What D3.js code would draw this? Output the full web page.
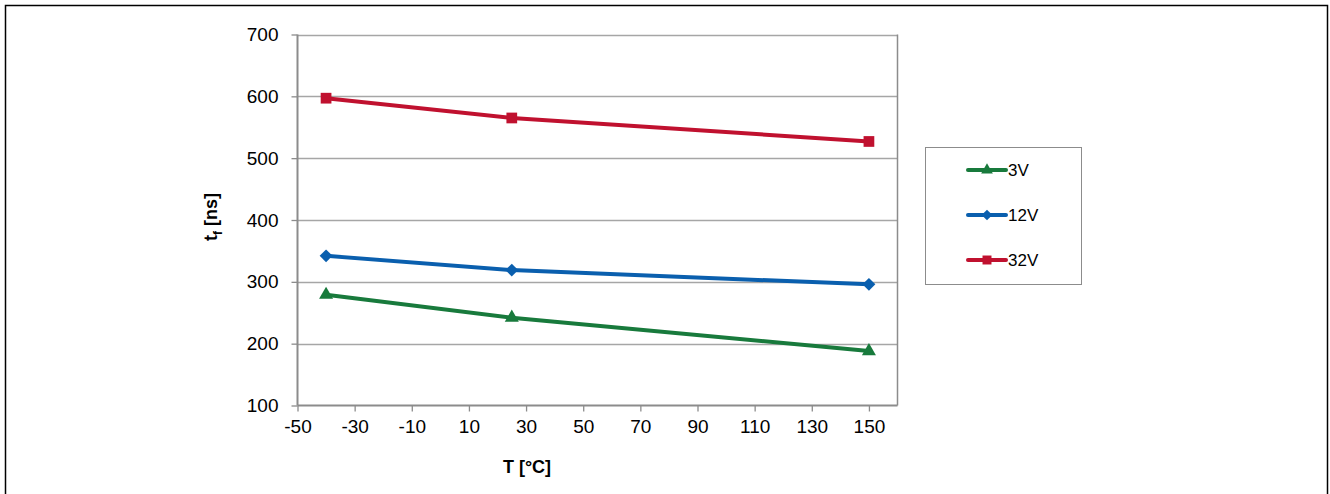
<!DOCTYPE html>
<html lang="en">
<head>
  <meta charset="UTF-8">
  <title>tf vs T</title>
  <script src="https://cdnjs.cloudflare.com/ajax/libs/d3/7.8.5/d3.min.js"></script>
  <style>
    body { margin: 0; padding: 0; background: #fff; font-family: "Liberation Sans", Arial, sans-serif; }
    svg { display: block; }
  </style>
</head>
<body>
<svg id="chart" width="1330" height="494"></svg>
<script>
  // temperatures (°C) and fall times (ns)
  const temps = [-40, 25, 150];
  const seriesNames = ["3V", "12V", "32V"];
  const tf3V = [279, 242, 188];
  const tf12V = [342, 319, 296];
  const tf32V = [597, 565, 527];
  const xTicks = [-50, -30, -10, 10, 30, 50, 70, 90, 110, 130, 150];
  const yTicks = [100, 200, 300, 400, 500, 600, 700];

  const colors = { "3V": "#187a3c", "12V": "#0a5fae", "32V": "#c0112f" };
  const symbols = { "3V": d3.symbolTriangle, "12V": d3.symbolDiamond2, "32V": d3.symbolSquare };
  const symSize = { "3V": 85, "12V": 105, "32V": 115 };
  const series = [
    { name: "3V", values: tf3V },
    { name: "12V", values: tf12V },
    { name: "32V", values: tf32V }
  ];

  const svg = d3.select("#chart");
  const plot = { left: 297.5, right: 897.5, top: 34.5, bottom: 405.5 };

  // outer frame
  svg.append("rect")
    .attr("x", 5.5).attr("y", 5.5)
    .attr("width", 1322).attr("height", 500)
    .attr("fill", "none").attr("stroke", "#000").attr("stroke-width", 1.5);

  const x = d3.scaleLinear().domain([-50, 160]).range([plot.left, plot.right]);
  const y = d3.scaleLinear().domain([100, 700]).range([plot.bottom, plot.top]);

  // gridlines
  svg.append("g").selectAll("line")
    .data(yTicks.slice(1))
    .join("line")
    .attr("x1", plot.left).attr("x2", plot.right)
    .attr("y1", d => Math.round(y(d)) + 0.5).attr("y2", d => Math.round(y(d)) + 0.5)
    .attr("stroke", "#a6a6a6").attr("stroke-width", 1.3);

  // right border of plot area
  svg.append("line")
    .attr("x1", plot.right).attr("x2", plot.right)
    .attr("y1", plot.top).attr("y2", plot.bottom)
    .attr("stroke", "#8c8c8c").attr("stroke-width", 1.5);

  const fmt = d => String(d);
  // y axis
  const yAxis = svg.append("g")
    .attr("transform", `translate(${plot.left},0)`)
    .call(d3.axisLeft(y).tickValues(yTicks).tickFormat(fmt).tickSize(6).tickPadding(13));
  // x axis
  const xAxis = svg.append("g")
    .attr("transform", `translate(0,${plot.bottom})`)
    .call(d3.axisBottom(x).tickValues(xTicks).tickFormat(fmt).tickSize(6).tickPadding(8));

  [yAxis, xAxis].forEach(a => {
    a.attr("font-size", null).attr("font-family", null);
    a.select(".domain").attr("stroke", "#8c8c8c").attr("stroke-width", 2);
    a.selectAll(".tick line").attr("stroke", "#8c8c8c").attr("stroke-width", 1.3);
    a.selectAll("text").style("font-family", "'Liberation Sans', Arial, sans-serif")
      .style("font-size", "19px").attr("fill", "#000");
  });
  xAxis.select(".domain").attr("d", `M${plot.left},0H${plot.right}`);
  yAxis.select(".domain").attr("d", `M0,${plot.bottom}V${plot.top}`);

  // axis titles
  const yTitle = svg.append("text")
    .attr("transform", "translate(217,217) rotate(-90)")
    .attr("text-anchor", "middle")
    .style("font-size", "18px").attr("font-weight", "bold");
  yTitle.append("tspan").text("t");
  yTitle.append("tspan").style("font-size", "12px").attr("dy", 5).text("f");
  yTitle.append("tspan").attr("dy", -5).text(" [ns]");

  svg.append("text")
    .attr("x", 527).attr("y", 473)
    .attr("text-anchor", "middle")
    .style("font-size", "18px").attr("font-weight", "bold")
    .text("T [°C]");

  // lines and markers
  const line = d3.line().x((d, i) => x(temps[i])).y(d => y(d));
  series.forEach(s => {
    svg.append("path")
      .attr("d", line(s.values))
      .attr("fill", "none")
      .attr("stroke", colors[s.name])
      .attr("stroke-width", 4);
    svg.append("g").selectAll("path")
      .data(s.values)
      .join("path")
      .attr("transform", (d, i) => `translate(${x(temps[i])},${y(d)})`)
      .attr("d", d3.symbol(symbols[s.name], symSize[s.name]))
      .attr("fill", colors[s.name]);
  });

  // legend
  const lg = svg.append("g");
  lg.append("rect")
    .attr("x", 925.5).attr("y", 147.5).attr("width", 156).attr("height", 137)
    .attr("fill", "#fff").attr("stroke", "#8c8c8c").attr("stroke-width", 1);
  seriesNames.forEach((name, i) => {
    const ly = 170 + i * 45;
    lg.append("line")
      .attr("x1", 968).attr("x2", 1006).attr("y1", ly).attr("y2", ly)
      .attr("stroke", colors[name]).attr("stroke-width", 4).attr("stroke-linecap", "round");
    lg.append("path")
      .attr("transform", `translate(987,${ly})`)
      .attr("d", d3.symbol(symbols[name], symSize[name] * 0.7))
      .attr("fill", colors[name]);
    lg.append("text")
      .attr("x", 1008).attr("y", ly + 6)
      .style("font-size", "17px")
      .text(name);
  });
</script>
</body>
</html>
